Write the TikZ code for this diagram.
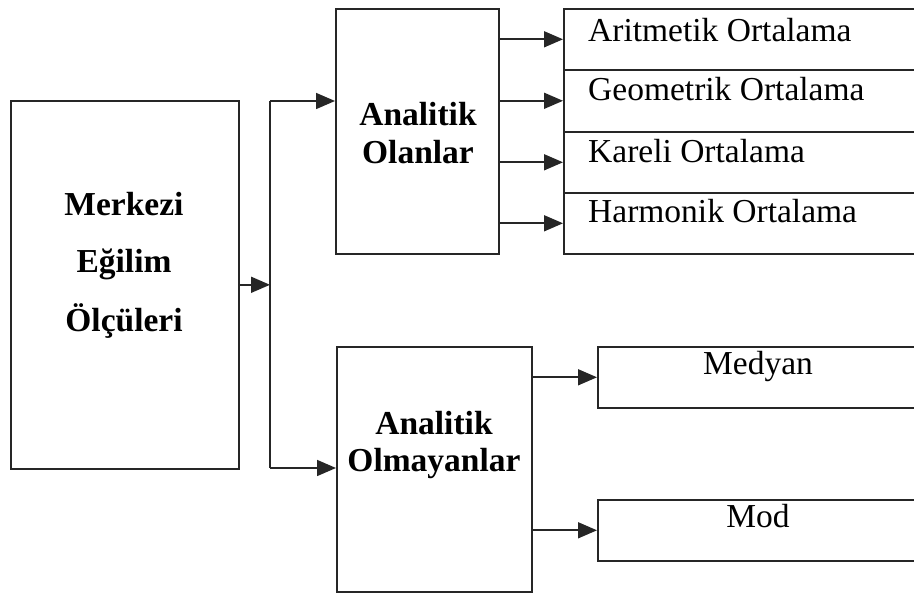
\documentclass[tikz,border=0pt]{standalone}
\usepackage{fontspec}
\setmainfont{Liberation Serif}
\usetikzlibrary{arrows.meta}
\begin{document}
\begin{tikzpicture}[x=1pt,y=-1pt,
  box/.style={draw=black!85, line width=1.6pt, inner sep=0pt, anchor=north west},
  arr/.style={line width=1.6pt, draw=black!85, -{Triangle[length=19pt,width=16pt]}},
  conn/.style={line width=1.6pt, draw=black!85},
  bt/.style={font=\fontsize{33.5}{40}\selectfont\bfseries, anchor=base, inner sep=0pt},
  rt/.style={font=\fontsize{33.5}{40}\selectfont, anchor=base west, inner sep=0pt},
  ct/.style={font=\fontsize{33.5}{40}\selectfont, anchor=base, inner sep=0pt}]
\useasboundingbox[fill=white] (0,0) rectangle (914,593);
% boxes
\node[box, minimum width=228pt, minimum height=368pt] (main) at (10,100) {};
\node[box, minimum width=163pt, minimum height=245pt] (olan) at (335,8) {};
\node[box, minimum width=195pt, minimum height=245pt] (olmayan) at (336,346) {};
\node[box, minimum width=367pt, minimum height=61pt] (a1) at (563,8) {};
\node[box, minimum width=367pt, minimum height=62pt] (a2) at (563,69) {};
\node[box, minimum width=367pt, minimum height=61pt] (a3) at (563,131) {};
\node[box, minimum width=367pt, minimum height=61pt] (a4) at (563,192) {};
\node[box, minimum width=333pt, minimum height=61pt] (med) at (597,346) {};
\node[box, minimum width=333pt, minimum height=61pt] (mod) at (597,499) {};
% texts
\node[bt] (t1) at (124,216) {Merkezi};
\node[bt] (t2) at (124,273) {Eğilim};
\node[bt] (t3) at (124,332) {Ölçüleri};
\node[bt] (t4) at (418,126) {Analitik};
\node[bt] (t5) at (418,164) {Olanlar};
\node[bt] (t6) at (434,435) {Analitik};
\node[bt] (t7) at (434,472) {Olmayanlar};
\node[rt] (r1) at (588,42) {Aritmetik Ortalama};
\node[rt] (r2) at (588,101) {Geometrik Ortalama};
\node[rt] (r3) at (588,163) {Kareli Ortalama};
\node[rt] (r4) at (588,223) {Harmonik Ortalama};
\node[ct] (m1) at (758,375) {Medyan};
\node[ct] (m2) at (758,528) {Mod};
% connectors
\coordinate (jt) at (270,101);
\coordinate (jb) at (270,468);
\draw[arr] (main.east) -- (main.east -| jt);
\draw[conn] (jt) -- (jb);
\draw[arr] (jt) -- (jt -| olan.west);
\draw[arr] (jb) -- (jb -| olmayan.west);
\draw[arr] (olan.east |- a1.west) -- (a1.west);
\draw[arr] (olan.east |- a2.west) -- (a2.west);
\draw[arr] (olan.east |- a3.west) -- (a3.west);
\draw[arr] (olan.east |- a4.west) -- (a4.west);
\draw[arr] (olmayan.east |- med.west) -- (med.west);
\draw[arr] (olmayan.east |- mod.west) -- (mod.west);
\end{tikzpicture}
\end{document}
